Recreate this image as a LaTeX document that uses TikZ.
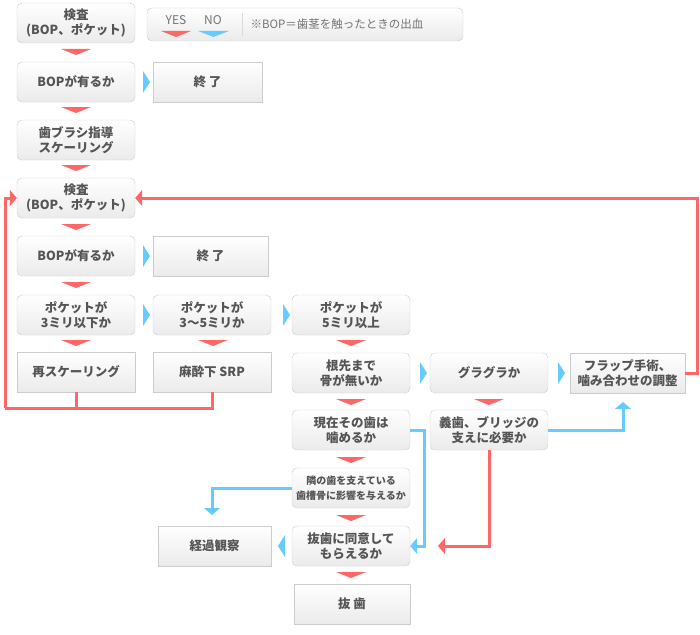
\documentclass[tikz,border=0pt]{standalone}
\usepackage{fontspec}
\usepackage{tikz}
\usetikzlibrary{arrows.meta}
\setmainfont{Noto Sans CJK JP}
\definecolor{yesred}{HTML}{FF6666}
\definecolor{noblue}{HTML}{66CCFF}
\definecolor{txt}{HTML}{555555}
\tikzset{
	box/.style={draw=black!20, rounded corners=5pt, top color=white, bottom color=black!8,
		minimum width=118pt, minimum height=40pt, align=center, text=txt,
		font=\fontsize{12.5}{15}\selectfont\bfseries, inner sep=1pt},
	sbox/.style={box, rounded corners=0pt},
	yesline/.style={draw=yesred, line width=3pt, -{Triangle[width=16pt,length=7pt]}},
	noline/.style={draw=noblue, line width=3pt, -{Triangle[width=16pt,length=7pt]}},
}
\begin{document}
\begin{tikzpicture}[x=1pt,y=-1pt]
\useasboundingbox (0,0) rectangle (700,634);

% boxes
\node[box] (kensa1) at (76,23) {検査\\(BOP、ポケット)};
\node[box, minimum width=316pt, minimum height=33pt] (legend) at (305,24.5) {};
\node[box] (bop1) at (76,82) {BOPが有るか};
\node[sbox, minimum width=109pt] (end1) at (207.5,82) {終 了};
\node[box] (brush) at (76,140) {歯ブラシ指導\\スケーリング};
\node[box] (kensa2) at (76,198) {検査\\(BOP、ポケット)};
\node[box] (bop2) at (76,256) {BOPが有るか};
\node[sbox, minimum width=115pt] (end2) at (210.5,256) {終 了};
\node[box] (pocketA) at (76,315) {ポケットが\\3ミリ以下か};
\node[box] (pocketB) at (212,315) {ポケットが\\3〜5ミリか};
\node[box] (pocketC) at (351,315) {ポケットが\\5ミリ以上};
\node[sbox] (rescale) at (76,372) {再スケーリング};
\node[sbox] (masui) at (212,372) {麻酔下 SRP};
\node[box] (root) at (351,373) {根先まで\\骨が無いか};
\node[box] (gura) at (489,373) {グラグラか};
\node[sbox, minimum width=115pt] (flap) at (627.5,373) {フラップ手術、\\噛み合わせの調整};
\node[box] (genzai) at (351,430) {現在その歯は\\噛めるか};
\node[box] (gishi) at (489,430) {義歯、ブリッジの\\支えに必要か};
\node[box, font=\fontsize{10}{15}\selectfont\bfseries] (tonari) at (351,488) {隣の歯を支えている\\歯槽骨に影響を与えるか};
\node[sbox, minimum width=113pt] (keika) at (214.5,546) {経過観察};
\node[box] (doui) at (351,546) {抜歯に同意して\\もらえるか};
\node[sbox, minimum width=116pt] (bashi) at (352,604) {抜 歯};

% legend
\node[text=black!55, font=\fontsize{12}{13}\selectfont] (yes) at (176,20) {YES};
\node[text=black!55, font=\fontsize{12}{13}\selectfont] (no) at (213,20) {NO};
\node[text=black!55, font=\fontsize{11.5}{13}\selectfont, anchor=west] (note) at (247,24) {※BOP＝歯茎を触ったときの出血};
\draw[black!15] (242,13)--(242,36);
\fill[yesred] (161,31)--(191,31)--(176,37)--cycle;
\fill[noblue] (198,31)--(229,31)--(213.5,37)--cycle;

% markers
\foreach \x/\y in {76/49,76/107,76/165,76/224,76/282,76/340,213/340,351/340,351/399,489/399,351/457,351/515,351/572}{
	\fill[yesred] (\x-15,\y)--(\x+15,\y)--(\x,\y+6)--cycle;
}
\foreach \x/\y in {143/82,143/256,143/315,283/315,420/373,558/373}{
	\fill[noblue] (\x,\y-11)--(\x+7,\y)--(\x,\y+11)--cycle;
}
\fill[noblue] (285,535)--(278,546)--(285,557)--cycle;

% connectors
\coordinate (lc) at (5,408);
\draw[draw=yesred, line width=3pt] (rescale.south) |- (lc);
\draw[draw=yesred, line width=3pt] (masui.south) |- (lc);
\draw[yesline] (lc) |- (kensa2.west);
\draw[yesline] (flap.east) -| (697,198) -- (kensa2.east);
\draw[noline] (genzai.east) -| (424,546) -- (doui.east);
\draw[yesline] (gishi.south) |- (438,546);
\draw[noline] (gishi.east) -| (623,402);
\draw[noline] (tonari.west) -| (212,515);
\end{tikzpicture}
\end{document}
